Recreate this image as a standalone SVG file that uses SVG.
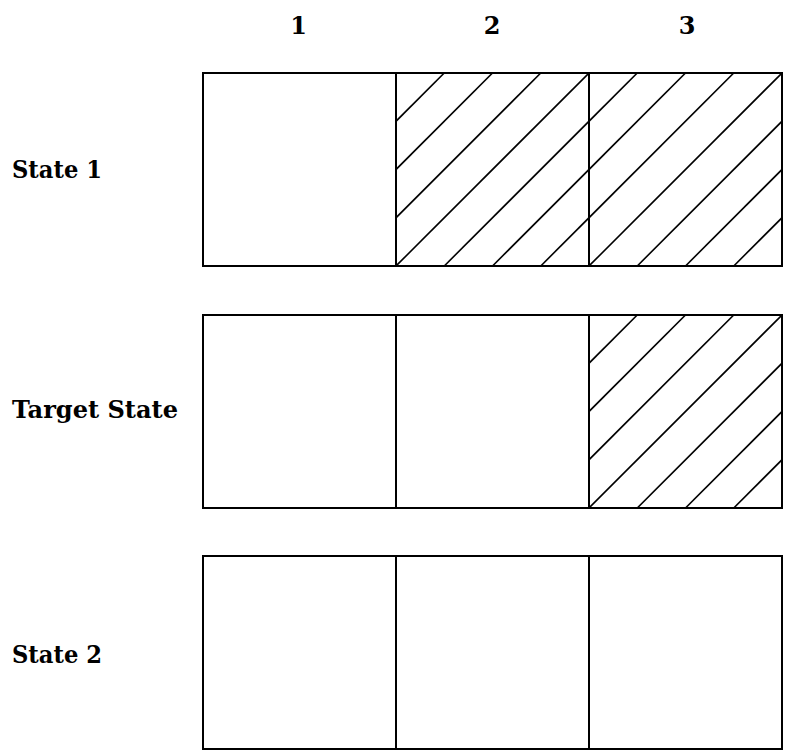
<svg xmlns="http://www.w3.org/2000/svg" xmlns:xlink="http://www.w3.org/1999/xlink" width="785" height="751" viewBox="0 0 785 751">
<style>
.cell{fill:#fff;stroke:#000;stroke-width:2}
.h{stroke:#000;stroke-width:1.6;fill:none}
.lbl{font-family:"DejaVu Serif","Liberation Serif",serif;font-weight:bold;font-size:24px;fill:#000}
</style>
<defs>
<clipPath id="cellclip"><rect x="0" y="0" width="193" height="193"/></clipPath>
<g id="hatch" clip-path="url(#cellclip)">
<line class="h" x1="-144.75" y1="193" x2="48.25" y2="0"/>
<line class="h" x1="-96.5" y1="193" x2="96.5" y2="0"/>
<line class="h" x1="-48.25" y1="193" x2="144.75" y2="0"/>
<line class="h" x1="0" y1="193" x2="193" y2="0"/>
<line class="h" x1="48.25" y1="193" x2="241.25" y2="0"/>
<line class="h" x1="96.5" y1="193" x2="289.5" y2="0"/>
<line class="h" x1="144.75" y1="193" x2="337.75" y2="0"/>
</g>
</defs>
<rect width="785" height="751" fill="#fff"/>
<g id="col-labels">
<text class="lbl" x="298.5" y="34" text-anchor="middle">1</text>
<text class="lbl" x="492" y="34" text-anchor="middle">2</text>
<text class="lbl" x="687" y="34" text-anchor="middle">3</text>
</g>
<g id="row-labels">
<text class="lbl" x="12" y="178" textLength="90" lengthAdjust="spacingAndGlyphs">State 1</text>
<text class="lbl" x="12" y="418" textLength="166" lengthAdjust="spacingAndGlyphs">Target State</text>
<text class="lbl" x="12" y="663" textLength="90" lengthAdjust="spacingAndGlyphs">State 2</text>
</g>
<g id="state1">
<g id="s1c1"><rect class="cell" x="203" y="73" width="193" height="193"/></g>
<g id="s1c2"><rect class="cell" x="396" y="73" width="193" height="193"/><use xlink:href="#hatch" x="396" y="73"/></g>
<g id="s1c3"><rect class="cell" x="589" y="73" width="193" height="193"/><use xlink:href="#hatch" x="589" y="73"/></g>
</g>
<g id="target">
<g id="tc1"><rect class="cell" x="203" y="315" width="193" height="193"/></g>
<g id="tc2"><rect class="cell" x="396" y="315" width="193" height="193"/></g>
<g id="tc3"><rect class="cell" x="589" y="315" width="193" height="193"/><use xlink:href="#hatch" x="589" y="315"/></g>
</g>
<g id="state2">
<g id="s2c1"><rect class="cell" x="203" y="556" width="193" height="193"/></g>
<g id="s2c2"><rect class="cell" x="396" y="556" width="193" height="193"/></g>
<g id="s2c3"><rect class="cell" x="589" y="556" width="193" height="193"/></g>
</g>
</svg>
